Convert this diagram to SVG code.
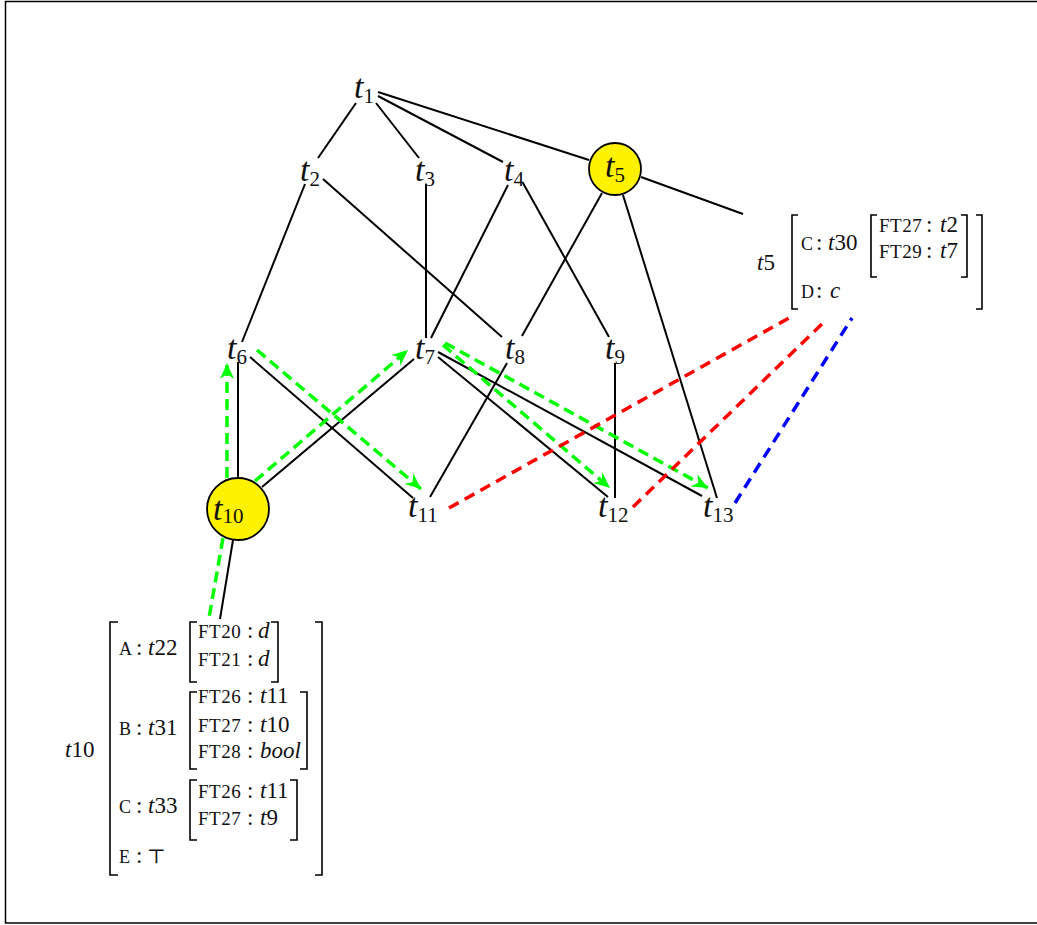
<svg xmlns="http://www.w3.org/2000/svg" width="1037" height="925" viewBox="0 0 1037 925">
<style>
.frame{fill:#fff;stroke:#000;stroke-width:1.5}
.e{stroke:#000;stroke-width:2;fill:none}
.g{stroke:#00ff00;stroke-width:3.5;stroke-dasharray:11 6;fill:none}
.r{stroke:#ff0000;stroke-width:3.5;stroke-dasharray:11 7;fill:none}
.b{stroke:#0000ff;stroke-width:3.5;stroke-dasharray:11 7;fill:none}
.node{fill:#fff200;stroke:#000;stroke-width:1.8}
.lbl{font-family:"Liberation Serif","DejaVu Serif",serif;font-size:34px;font-style:italic;fill:#111}
.sub{font-size:21px;font-style:normal}
.avm{font-family:"Liberation Serif","DejaVu Serif",serif;font-size:23px;fill:#111}
.it{font-style:italic}
.sc{font-size:19px;letter-spacing:0.5px}
.sc1{font-size:18px}
.br{stroke:#000;stroke-width:1.6;fill:none}
</style>
<defs>
<marker id="ga" viewBox="-17 -8 18 16" markerWidth="18" markerHeight="16" refX="0" refY="0" orient="auto" markerUnits="userSpaceOnUse">
<path d="M0,0 L-16,-7 L-11,0 L-16,7 Z" fill="#00ff00"/>
</marker>
</defs>
<rect class="frame" x="5.5" y="1.5" width="1100" height="921.5"/>
<g id="connectors">
<path class="e" d="M356,103 L318,158"/>
<path class="e" d="M376,103 L419,158"/>
<path class="e" d="M378,96 L503,162"/>
<path class="e" d="M378,92 L589,160"/>
<path class="e" d="M641,177 L743,214"/>
<path class="e" d="M305,184 L242,342"/>
<path class="e" d="M323,179 L502,337"/>
<path class="e" d="M426,184 L426,338"/>
<path class="e" d="M508,185 L431,338"/>
<path class="e" d="M523,183 L609,337"/>
<path class="e" d="M602,193 L522,336"/>
<path class="e" d="M623,195 L717,498"/>
<path class="e" d="M238,362 L238,478"/>
<path class="e" d="M250,357 L413,498"/>
<path class="e" d="M262,487 L414,359"/>
<path class="e" d="M438,357 L608,497"/>
<path class="e" d="M438,352 L702,496"/>
<path class="e" d="M507,363 L430,497"/>
<path class="e" d="M615,363 L615,498"/>
<path class="e" d="M233,540 L220,619"/>
<path class="g" d="M227,478 L227,363" marker-end="url(#ga)"/>
<path class="g" d="M255,481 L408,350" marker-end="url(#ga)"/>
<path class="g" d="M257,350 L421,489" marker-end="url(#ga)"/>
<path class="g" d="M443,345 L610,488" marker-end="url(#ga)"/>
<path class="g" d="M445,343 L708,488" marker-end="url(#ga)"/>
<path class="g" d="M223,538 L209,618"/>
<path class="r" d="M449,508 L789,318"/>
<path class="r" d="M633,507 L826,320"/>
<path class="b" d="M735,503 L852,318"/>
</g>
<g id="t1"><text class="lbl" x="354" y="98">t<tspan class="sub" dy="5">1</tspan></text></g>
<g id="t2"><text class="lbl" x="300" y="181">t<tspan class="sub" dy="5">2</tspan></text></g>
<g id="t3"><text class="lbl" x="415" y="181">t<tspan class="sub" dy="5">3</tspan></text></g>
<g id="t4"><text class="lbl" x="504" y="181">t<tspan class="sub" dy="5">4</tspan></text></g>
<g id="t5"><circle class="node" cx="615" cy="169" r="26"/><text class="lbl" x="605" y="177">t<tspan class="sub" dy="5">5</tspan></text></g>
<g id="t6"><text class="lbl" x="227" y="359">t<tspan class="sub" dy="5">6</tspan></text></g>
<g id="t7"><text class="lbl" x="415" y="359">t<tspan class="sub" dy="5">7</tspan></text></g>
<g id="t8"><text class="lbl" x="505" y="359">t<tspan class="sub" dy="5">8</tspan></text></g>
<g id="t9"><text class="lbl" x="605" y="359">t<tspan class="sub" dy="5">9</tspan></text></g>
<g id="t10"><circle class="node" cx="238" cy="509" r="31"/><text class="lbl" x="213" y="520">t<tspan class="sub" dy="3">10</tspan></text></g>
<g id="t11"><text class="lbl" x="408" y="517">t<tspan class="sub" dy="5">11</tspan></text></g>
<g id="t12"><text class="lbl" x="598" y="517">t<tspan class="sub" dy="5">12</tspan></text></g>
<g id="t13"><text class="lbl" x="703" y="517">t<tspan class="sub" dy="5">13</tspan></text></g>
<g id="avm-t5" class="avm">
<text x="757" y="270"><tspan class="it">t</tspan>5</text>
<path class="br" d="M798,215 H792 V309 H798"/>
<path class="br" d="M976,215 H982 V309 H976"/>
<text x="801" y="250"><tspan class="sc1">C</tspan><tspan x="816">:</tspan><tspan x="828" class="it">t</tspan>30</text>
<path class="br" d="M877,215 H871 V277 H877"/>
<path class="br" d="M961,215 H967 V277 H961"/>
<text x="879" y="232"><tspan class="sc">FT27</tspan><tspan x="926">:</tspan><tspan x="940" class="it">t</tspan>2</text>
<text x="879" y="258"><tspan class="sc">FT29</tspan><tspan x="926">:</tspan><tspan x="940" class="it">t</tspan>7</text>
<text x="801" y="298"><tspan class="sc1">D</tspan><tspan x="816">:</tspan><tspan x="830" class="it">c</tspan></text>
</g>
<g id="avm-t10" class="avm">
<text x="65" y="757"><tspan class="it">t</tspan>10</text>
<path class="br" d="M118,622 H110 V875 H118"/>
<path class="br" d="M315,622 H322 V875 H315"/>
<text x="119" y="655"><tspan class="sc1">A</tspan><tspan x="136">:</tspan><tspan x="148" class="it">t</tspan>22</text>
<path class="br" d="M197,622 H190 V682 H197"/>
<path class="br" d="M271,622 H278 V682 H271"/>
<text x="198" y="638"><tspan class="sc">FT20</tspan><tspan x="247">:</tspan><tspan x="258" class="it">d</tspan></text>
<text x="198" y="666"><tspan class="sc">FT21</tspan><tspan x="247">:</tspan><tspan x="258" class="it">d</tspan></text>
<text x="119" y="735"><tspan class="sc1">B</tspan><tspan x="136">:</tspan><tspan x="148" class="it">t</tspan>31</text>
<path class="br" d="M197,692 H190 V769 H197"/>
<path class="br" d="M300,692 H307 V769 H300"/>
<text x="198" y="703"><tspan class="sc">FT26</tspan><tspan x="247">:</tspan><tspan x="260" class="it">t</tspan>11</text>
<text x="198" y="732"><tspan class="sc">FT27</tspan><tspan x="247">:</tspan><tspan x="260" class="it">t</tspan>10</text>
<text x="198" y="758"><tspan class="sc">FT28</tspan><tspan x="247">:</tspan><tspan x="260" class="it">bool</tspan></text>
<text x="119" y="813"><tspan class="sc1">C</tspan><tspan x="136">:</tspan><tspan x="148" class="it">t</tspan>33</text>
<path class="br" d="M197,780 H190 V840 H197"/>
<path class="br" d="M290,780 H297 V840 H290"/>
<text x="198" y="798"><tspan class="sc">FT26</tspan><tspan x="247">:</tspan><tspan x="260" class="it">t</tspan>11</text>
<text x="198" y="825"><tspan class="sc">FT27</tspan><tspan x="247">:</tspan><tspan x="260" class="it">t</tspan>9</text>
<text x="119" y="863"><tspan class="sc1">E</tspan><tspan x="136">:</tspan><tspan x="147" style="font-size:20px">⊤</tspan></text>
</g>
</svg>
